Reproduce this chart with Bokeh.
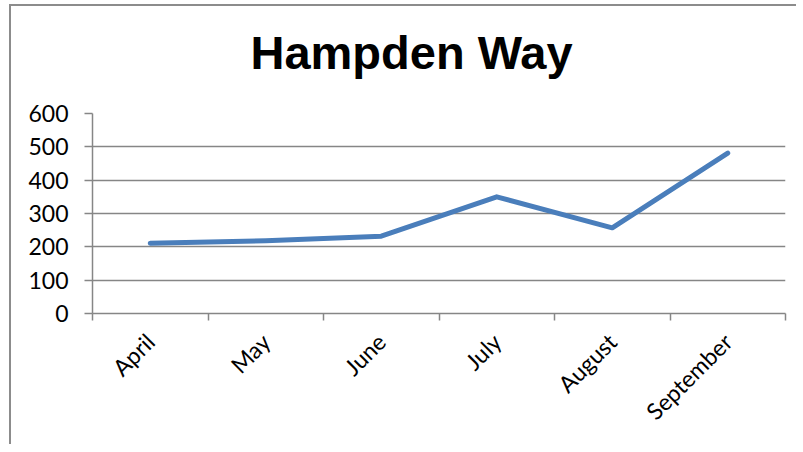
import math
from bokeh.plotting import figure
from bokeh.models import FixedTicker, Range1d, Title
from bokeh.embed import file_html
from bokeh.resources import INLINE

title_text = "Hampden Way"
months = ["April", "May", "June", "July", "August", "September"]
values = [211, 218, 232, 350, 257, 481]
y_ticks = [0, 100, 200, 300, 400, 500, 600]

xs = [i + 0.5 for i in range(len(months))]

p = figure(width=787, height=440, output_backend="svg", toolbar_location=None,
           x_range=Range1d(0, len(months)), y_range=Range1d(0, 600),
           min_border_left=81, min_border_right=13, min_border_top=107,
           min_border_bottom=133,
           styles={"margin-left": "9px", "margin-top": "4px",
                   "border-left": "2px solid #8c8c8c",
                   "border-top": "2px solid #8c8c8c"})
p.title = None

# spacer between the title and the plot area (first added = nearest the frame)
spacer = Title(text=" ", text_font_size="1px", standoff=27)
p.add_layout(spacer, "above")

main_title = Title(text=title_text, text_font="Liberation Sans",
                   text_font_style="bold", text_font_size="47px",
                   text_color="black", align="left", offset=158, standoff=10)
p.add_layout(main_title, "above")

p.line(xs, values, line_color="#4A7EBB", line_width=5, line_cap="round", line_join="round")

grey = "#868686"
p.xaxis.ticker = FixedTicker(ticks=xs, minor_ticks=list(range(len(months) + 1)))
p.xaxis.major_label_overrides = {x: m for x, m in zip(xs, months)}
p.xaxis.major_label_orientation = math.pi / 4
p.xaxis.major_tick_out = 0
p.xaxis.major_tick_in = 0
p.xaxis.minor_tick_out = 7
p.xaxis.minor_tick_in = 0
p.xaxis.minor_tick_line_color = grey
p.xaxis.minor_tick_line_width = 1.5
p.xaxis.axis_line_color = grey
p.xaxis.axis_line_width = 1.5
p.xaxis.major_label_standoff = 17

p.yaxis.ticker = FixedTicker(ticks=y_ticks, minor_ticks=[])
p.yaxis.major_tick_out = 8
p.yaxis.major_tick_in = 0
p.yaxis.major_tick_line_color = grey
p.yaxis.major_tick_line_width = 1.5
p.yaxis.axis_line_color = grey
p.yaxis.axis_line_width = 1.5
p.yaxis.major_label_standoff = 16

for ax in (p.xaxis, p.yaxis):
    ax.major_label_text_font = "Lato"
    ax.major_label_text_font_size = "23px"
    ax.major_label_text_color = "black"

p.xgrid.grid_line_color = None
p.ygrid.grid_line_color = grey
p.ygrid.grid_line_width = 1.5
p.ygrid.ticker = FixedTicker(ticks=y_ticks)

p.outline_line_color = None
p.background_fill_color = "white"
p.border_fill_color = "white"

open("out.html", "w").write(file_html(p, INLINE))
